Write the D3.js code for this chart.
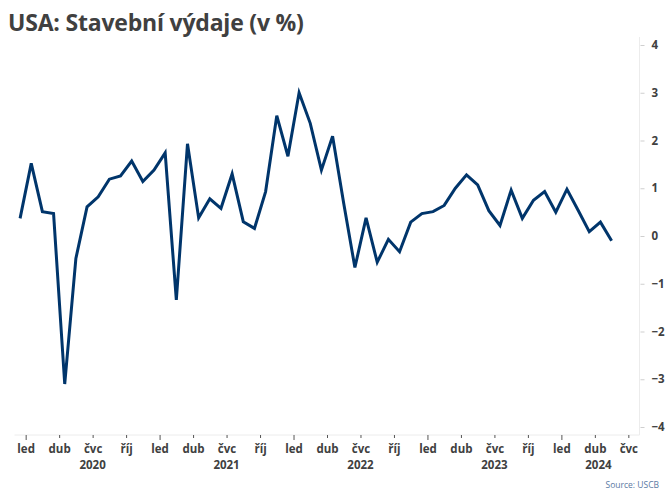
<!DOCTYPE html>
<html>
<head>
<meta charset="utf-8">
<script src="https://cdn.jsdelivr.net/npm/d3@7"></script>
<style>
  body { margin: 0; background: #fff; }
  svg { display: block; font-family: "Open Sans", "Segoe UI", sans-serif; }
</style>
</head>
<body>
<svg id="chart" width="670" height="502"></svg>
<script>
// Monthly data, Dec 2019 .. May 2024 (month-over-month change, %)
const startYear = 2019, startMonth = 11; // December 2019 (0-based month)
const values = [
  0.37, 1.52, 0.51, 0.47, -3.10, -0.47, 0.61, 0.82, 1.19, 1.26, 1.57, 1.14, 1.38,
  1.74, -1.34, 1.93, 0.38, 0.78, 0.58, 1.30, 0.30, 0.16, 0.93, 2.52, 1.67,
  3.00, 2.36, 1.38, 2.09, 0.68, -0.66, 0.38, -0.55, -0.07, -0.33, 0.29, 0.47,
  0.51, 0.64, 1.00, 1.28, 1.07, 0.53, 0.22, 0.96, 0.37, 0.75, 0.93, 0.50,
  0.98, 0.54, 0.09, 0.29, -0.10
];
const monthLabels = ["led", "dub", "čvc", "říj"]; // quarter starts
const years = [2020, 2021, 2022, 2023, 2024];
const yTicks = [-4, -3, -2, -1, 0, 1, 2, 3, 4];
const axisMonths = 56; // Dec 2019 .. Jul 2024 shown on the axis
const title = "USA: Stavební výdaje (v %)";
const source = "Source: USCB";

const svg = d3.select("#chart");
const pLeft = 14.5, pRight = 639.5, pTop = 45, pBottom = 427, axisY = 435;

const x = d3.scaleLinear().domain([0, axisMonths]).range([pLeft, pRight]);
const y = d3.scaleLinear().domain([-4, 4]).range([pBottom, pTop]);

// title
svg.append("text").attr("x", 8).attr("y", 31)
  .attr("font-size", 23).attr("font-weight", 700).attr("fill", "#404040")
  .attr("letter-spacing", -0.2)
  .text(title);

// y axis (right)
svg.append("line").attr("x1", pRight).attr("x2", pRight).attr("y1", pTop - 8).attr("y2", axisY)
  .attr("stroke", "#ececec");
const yAxis = d3.axisRight(y).tickValues(yTicks).tickSize(4).tickPadding(7).tickFormat(d3.format("d"));
const gy = svg.append("g").attr("transform", `translate(${pRight + 1},0)`).call(yAxis);
gy.select(".domain").remove();
gy.selectAll(".tick line").attr("stroke", "#cfcfcf");
gy.selectAll(".tick text").attr("font-size", 11.5).attr("font-weight", 700).attr("fill", "#404040")
  .attr("font-family", "Open Sans, sans-serif");

// x axis
svg.append("line").attr("x1", pLeft).attr("x2", pRight).attr("y1", axisY).attr("y2", axisY)
  .attr("stroke", "#ececec");
const quarterTicks = [];
for (let i = 0; i < axisMonths; i++) {
  const m = (startMonth + i) % 12;
  if (m % 3 === 0) quarterTicks.push(i);
}
const xAxis = d3.axisBottom(x).tickValues(quarterTicks).tickSize(3).tickPadding(7)
  .tickFormat(i => monthLabels[((startMonth + i) % 12) / 3]);
const gx = svg.append("g").attr("transform", `translate(0,${axisY})`).call(xAxis);
gx.select(".domain").remove();
gx.selectAll(".tick line").attr("stroke", "#555")
  .attr("y2", i => ((startMonth + i) % 12) === 0 ? 5 : 3);
gx.selectAll(".tick text").attr("font-size", 11.5).attr("font-weight", 700).attr("fill", "#404040")
  .attr("font-family", "Open Sans, sans-serif");

// year labels
years.forEach(yr => {
  const s = Math.max(0, (yr - startYear) * 12 - startMonth);
  const e = Math.min(axisMonths, (yr + 1 - startYear) * 12 - startMonth);
  const cx = yr === 2024 ? (x(s) + x(e)) / 2 - 2 : x(s + 6);
  svg.append("text").attr("x", cx).attr("y", 469).attr("text-anchor", "middle")
    .attr("font-size", 11.5).attr("font-weight", 700).attr("fill", "#404040").text(yr);
});

// line
const line = d3.line().x((d, i) => x(i + 0.5)).y(d => y(d));
svg.append("path").datum(values).attr("d", line)
  .attr("fill", "none").attr("stroke", "#00356b").attr("stroke-width", 3)
  .attr("stroke-linejoin", "miter");

// source
svg.append("text").attr("x", 659).attr("y", 488).attr("text-anchor", "end")
  .attr("font-size", 8.5).attr("fill", "#5b7aa3").text(source);
</script>
</body>
</html>
